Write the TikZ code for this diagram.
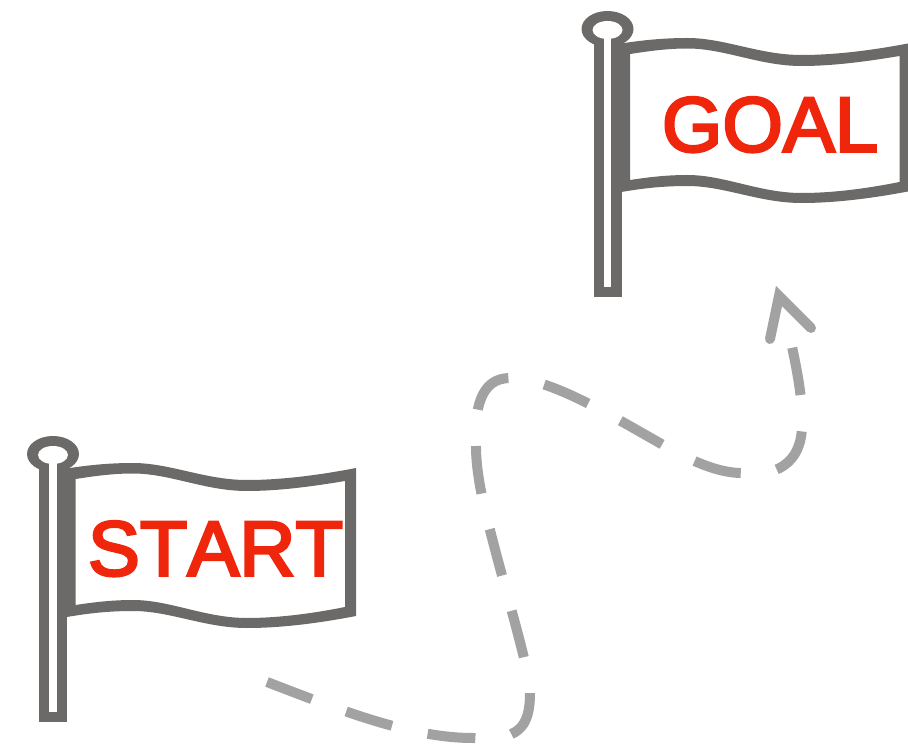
\documentclass[tikz,border=0pt]{standalone}
\usepackage{fontspec}
\setmainfont{Liberation Sans}
\newfontfamily\flagfont[FakeBold=3.4,Kerning=Off]{Liberation Sans}
\definecolor{flaggray}{HTML}{6B6A68}
\definecolor{routegray}{HTML}{A3A2A2}
\definecolor{labelred}{HTML}{F0260C}
\tikzset{
  flagpart/.style={fill=flaggray,draw=none},
  slit/.style={fill=white,draw=none},
  flaglabel/.style={text=labelred,inner sep=0pt,anchor=base,font=\flagfont\fontsize{77.8}{80}\selectfont},
  route/.style={draw=routegray,line width=10pt,line cap=butt,dash pattern=on 48pt off 36.5pt},
  routehead/.style={draw=routegray,line width=10pt,line cap=round,line join=miter,miter limit=10},
  flag/.pic={
    % cloth
    \path[flagpart,even odd rule]
      (60,468) -- (70,468) .. controls (90,465) and (110,463) .. (133,463)
      .. controls (170,463) and (205,480) .. (247,480)
      .. controls (285,480) and (325,474) .. (356,468)
      -- (356,616)
      .. controls (325,622) and (285,628) .. (247,628)
      .. controls (205,628) and (170,611) .. (133,611)
      .. controls (110,611) and (90,613) .. (67,617) -- (60,617) -- cycle
      (75.7,479) .. controls (95,476) and (113,473.5) .. (133,473.5)
      .. controls (170,473.5) and (205,491) .. (247,491)
      .. controls (280,491) and (315,486) .. (345,481)
      -- (345,607)
      .. controls (315,613) and (280,618) .. (247,618)
      .. controls (205,618) and (170,600) .. (133,600)
      .. controls (113,600) and (95,602) .. (75.7,605) -- cycle;
    % pole
    \path[flagpart] (39,722) rectangle (67.3,455);
    \path[flagpart] (53,454) ellipse [x radius=26,y radius=18];
    \path[slit] (53,455) ellipse [x radius=15,y radius=9];
    \path[slit] (49.3,712) rectangle (56.7,458);
  }
}
\begin{document}
\begin{tikzpicture}[x=1pt,y=-1pt]
\useasboundingbox (0,0) rectangle (908,751);
\clip (0,0) rectangle (908,751);
\pic (startflag) at (0,0) {flag};
\pic (goalflag) at (554.5,-425) {flag};
\node[flaglabel] (startlabel) at (215.5,575.5) {START};
\node[flaglabel] (goallabel) at (770,151.5) {GOAL};
\coordinate (r0) at (267,682);
\coordinate (r1) at (473,738);
\coordinate (r2) at (530,693);
\coordinate (r3) at (490,530);
\coordinate (r4) at (476,447);
\coordinate (r5) at (510,378);
\coordinate (r6) at (665,446);
\coordinate (r7) at (742,473);
\coordinate (r8) at (802,425);
\coordinate (r9) at (791,342);
\coordinate (h1) at (770,339);
\coordinate (h2) at (779,296);
\coordinate (h3) at (811,328);
\draw[route] (r0) .. controls (340,710) and (410,738) .. (r1)
  .. controls (518,741) and (530,728) .. (r2)
  .. controls (530,670) and (505,590) .. (r3)
  .. controls (482,500) and (476,470) .. (r4)
  .. controls (474,410) and (480,378) .. (r5)
  .. controls (550,378) and (610,415) .. (r6)
  .. controls (695,463) and (720,473) .. (r7)
  .. controls (785,478) and (802,455) .. (r8)
  .. controls (803,400) and (797,370) .. (r9);
\draw[routehead] (h1) -- (h2) -- (h3);
\end{tikzpicture}
\end{document}
